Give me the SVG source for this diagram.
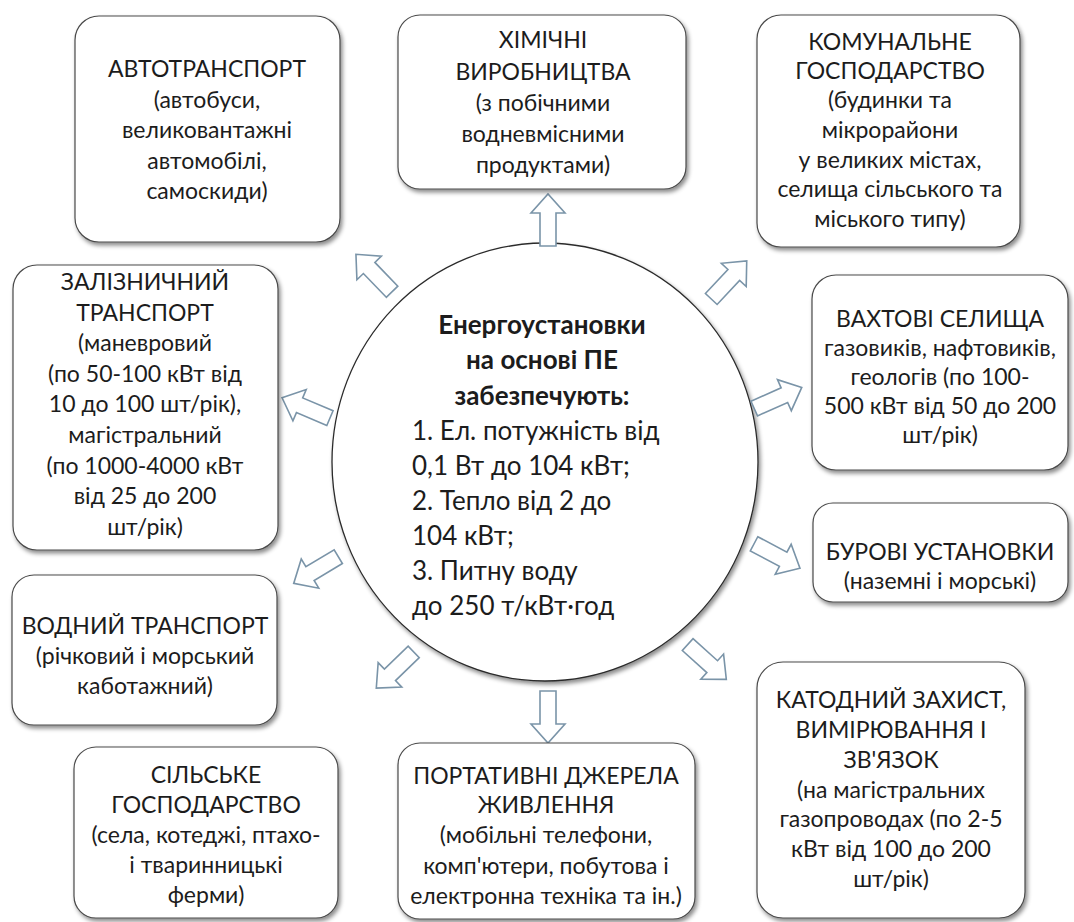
<svg xmlns="http://www.w3.org/2000/svg" width="1074" height="922" viewBox="0 0 1074 922">
<defs>
<filter id="sh" x="-10%" y="-10%" width="125%" height="125%">
<feDropShadow dx="2" dy="3" stdDeviation="2" flood-color="#000" flood-opacity="0.45"/>
</filter>
<path id="arr" d="M-26,-8 L7,-8 L7,-17 L26,0 L7,17 L7,8 L-26,8 Z"/>
</defs>
<style>
.box{fill:#fff;stroke:#4a4a4a;stroke-width:1.2;filter:url(#sh)}
.t{font-family:Lato,"Open Sans","Noto Sans",sans-serif;font-size:23px;fill:#1c1c1c;text-anchor:middle}
.c{font-family:Lato,"Open Sans","Noto Sans",sans-serif;font-size:26px;fill:#1c1c1c}
.cb{font-weight:bold;text-anchor:middle}
.ar{fill:#fff;stroke:#7a94a8;stroke-width:1.6;stroke-linejoin:miter}
</style>
<rect width="1074" height="922" fill="#fff"/>

<g id="center">
<ellipse cx="545" cy="462" rx="213" ry="219" fill="#fff" stroke="#2b2b2b" stroke-width="1.3" filter="url(#sh)"/>
<text class="c cb" x="542" y="334">Енергоустановки</text>
<text class="c cb" x="542" y="369">на основі ПЕ</text>
<text class="c cb" x="542" y="405">забезпечують:</text>
<text class="c" x="412" y="440">1. Ел. потужність від</text>
<text class="c" x="412" y="475">0,1 Вт до 104 кВт;</text>
<text class="c" x="412" y="510">2. Тепло від 2 до</text>
<text class="c" x="412" y="545">104 кВт;</text>
<text class="c" x="412" y="580">3. Питну воду</text>
<text class="c" x="412" y="615">до 250 т/кВт·год</text>
</g>

<g id="connectors">
<use href="#arr" class="ar" transform="translate(548,220) rotate(-90)"/>
<use href="#arr" class="ar" transform="translate(374,273) rotate(-134)"/>
<use href="#arr" class="ar" transform="translate(729,280) rotate(-47)"/>
<use href="#arr" class="ar" transform="translate(306,408) rotate(-157)"/>
<use href="#arr" class="ar" transform="translate(778,398) rotate(-24)"/>
<use href="#arr" class="ar" transform="translate(316,570) rotate(149)"/>
<use href="#arr" class="ar" transform="translate(777,556) rotate(28)"/>
<use href="#arr" class="ar" transform="translate(395,670) rotate(136)"/>
<use href="#arr" class="ar" transform="translate(548,717) rotate(90)"/>
<use href="#arr" class="ar" transform="translate(707,662) rotate(42)"/>
</g>

<g id="avto">
<rect class="box" x="75" y="16" width="265" height="226" rx="24"/>
<text class="t" x="207" y="77">АВТОТРАНСПОРТ</text>
<text class="t" x="207" y="108">(автобуси,</text>
<text class="t" x="207" y="138">великовантажні</text>
<text class="t" x="207" y="169">автомобілі,</text>
<text class="t" x="207" y="199">самоскиди)</text>
</g>

<g id="khim">
<rect class="box" x="398" y="15" width="288" height="174" rx="22"/>
<text class="t" x="543" y="48">ХІМІЧНІ</text>
<text class="t" x="543" y="80">ВИРОБНИЦТВА</text>
<text class="t" x="543" y="111">(з побічними</text>
<text class="t" x="543" y="142">водневмісними</text>
<text class="t" x="543" y="173">продуктами)</text>
</g>

<g id="komun">
<rect class="box" x="757" y="15" width="263" height="232" rx="24"/>
<text class="t" x="890" y="50">КОМУНАЛЬНЕ</text>
<text class="t" x="890" y="79">ГОСПОДАРСТВО</text>
<text class="t" x="890" y="108">(будинки та</text>
<text class="t" x="890" y="138">мікрорайони</text>
<text class="t" x="890" y="168">у великих містах,</text>
<text class="t" x="890" y="197">селища сільського та</text>
<text class="t" x="890" y="227">міського типу)</text>
</g>

<g id="zaliz">
<rect class="box" x="13" y="265" width="265" height="285" rx="24"/>
<text class="t" x="145" y="290">ЗАЛІЗНИЧНИЙ</text>
<text class="t" x="145" y="321">ТРАНСПОРТ</text>
<text class="t" x="145" y="351">(маневровий</text>
<text class="t" x="145" y="382">(по 50-100 кВт від</text>
<text class="t" x="145" y="412">10 до 100 шт/рік),</text>
<text class="t" x="145" y="443">магістральний</text>
<text class="t" x="145" y="474">(по 1000-4000 кВт</text>
<text class="t" x="145" y="504">від 25 до 200</text>
<text class="t" x="145" y="535">шт/рік)</text>
</g>

<g id="vakht">
<rect class="box" x="812" y="275" width="256" height="195" rx="24"/>
<text class="t" x="940" y="327">ВАХТОВІ СЕЛИЩА</text>
<text class="t" x="940" y="356">газовиків, нафтовиків,</text>
<text class="t" x="940" y="385">геологів (по 100-</text>
<text class="t" x="940" y="414">500 кВт від 50 до 200</text>
<text class="t" x="940" y="443">шт/рік)</text>
</g>

<g id="burovi">
<rect class="box" x="813" y="503" width="255" height="99" rx="20"/>
<text class="t" x="940" y="560">БУРОВІ УСТАНОВКИ</text>
<text class="t" x="940" y="589">(наземні і морські)</text>
</g>

<g id="vodnyi">
<rect class="box" x="12" y="575" width="265" height="150" rx="22"/>
<text class="t" x="145" y="634">ВОДНИЙ ТРАНСПОРТ</text>
<text class="t" x="145" y="664">(річковий і морський</text>
<text class="t" x="145" y="694">каботажний)</text>
</g>

<g id="silske">
<rect class="box" x="74" y="747" width="264" height="171" rx="22"/>
<text class="t" x="206" y="783">СІЛЬСЬКЕ</text>
<text class="t" x="206" y="813">ГОСПОДАРСТВО</text>
<text class="t" x="206" y="843">(села, котеджі, птахо-</text>
<text class="t" x="206" y="873">і тваринницькі</text>
<text class="t" x="206" y="903">ферми)</text>
</g>

<g id="portat">
<rect class="box" x="398" y="743" width="297" height="176" rx="22"/>
<text class="t" x="546" y="784">ПОРТАТИВНІ ДЖЕРЕЛА</text>
<text class="t" x="546" y="813">ЖИВЛЕННЯ</text>
<text class="t" x="546" y="843">(мобільні телефони,</text>
<text class="t" x="546" y="874">комп'ютери, побутова і</text>
<text class="t" x="546" y="904">електронна техніка та ін.)</text>
</g>

<g id="katod">
<rect class="box" x="757" y="662" width="268" height="256" rx="26"/>
<text class="t" x="891" y="708">КАТОДНИЙ ЗАХИСТ,</text>
<text class="t" x="891" y="738">ВИМІРЮВАННЯ І</text>
<text class="t" x="891" y="768">ЗВ'ЯЗОК</text>
<text class="t" x="891" y="798">(на магістральних</text>
<text class="t" x="891" y="827">газопроводах (по 2-5</text>
<text class="t" x="891" y="857">кВт від 100 до 200</text>
<text class="t" x="891" y="887">шт/рік)</text>
</g>
</svg>
